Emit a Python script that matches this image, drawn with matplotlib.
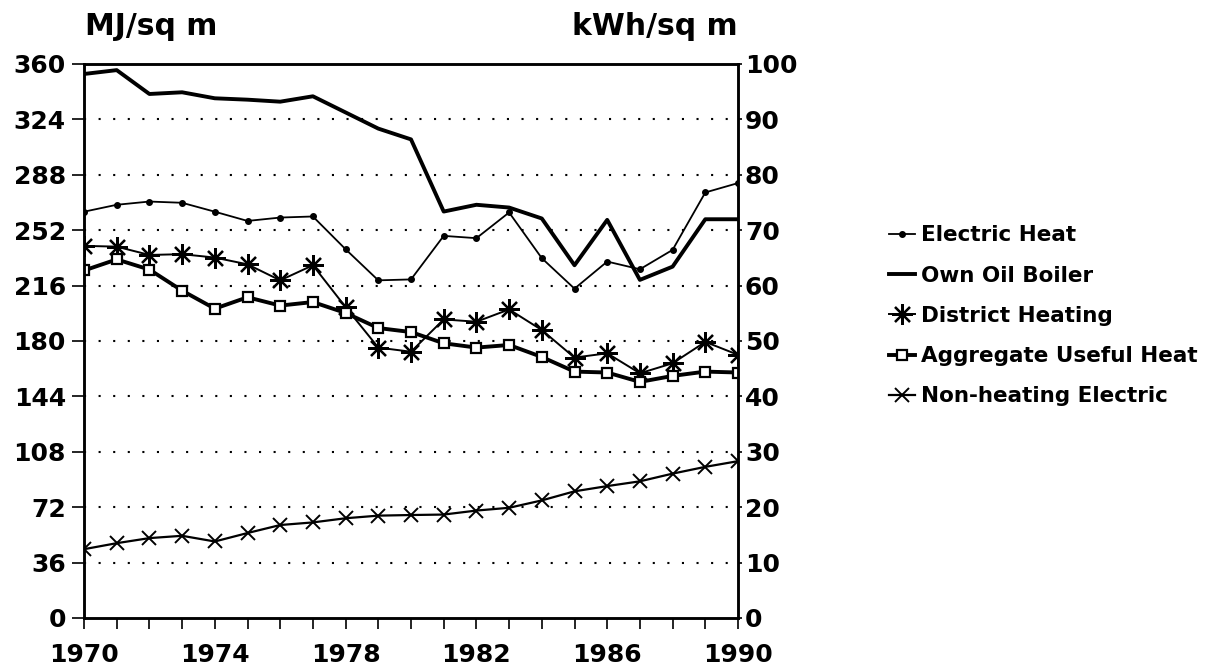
import matplotlib.pyplot as plt
from matplotlib.ticker import FixedLocator, MultipleLocator

plt.rcParams["font.family"] = ["DejaVu Sans"]
plt.rcParams["font.weight"] = "bold"

years = list(range(1970, 1991))

electric_heat = [264, 268.5, 270.6, 269.8, 264, 258, 260.2, 260.9, 239.6, 219.4,
                 220, 248.3, 246.8, 263.5, 233.8, 214, 231.6, 226.6, 239.2, 276.5, 282.6]
own_oil_boiler = [353.5, 356, 340.5, 341.6, 337.7, 336.8, 335.5, 339, 328.5, 318,
                  311, 264.1, 268.5, 266.7, 259.6, 229.2, 258.7, 219.7, 228.3, 259.1, 259.1]
district_heating = [241.8, 241.3, 235.9, 236.4, 234.2, 229.8, 219.4, 229.2, 202, 175.7,
                    173, 194, 192.5, 200.5, 187.1, 169.2, 172, 159, 165.5, 179.4, 171]
aggregate_useful = [225.8, 233, 226.4, 212.7, 201, 208.4, 203, 205.3, 198.2, 188.4,
                    185.8, 178.5, 175.7, 177.4, 169.6, 160.1, 159.5, 153.4, 157.3, 160.1, 159.5]
non_heating_electric = [44.7, 48.6, 51.9, 53.4, 49.7, 55.2, 60.4, 62.1, 64.8, 66.5,
                        66.9, 67.2, 69.8, 71.6, 76.4, 82.3, 85.7, 88.8, 93.8, 98.2, 101.9]

mj_ticks = list(range(0, 361, 36))
kwh_ticks = list(range(0, 101, 10))
year_labels = [1970, 1974, 1978, 1982, 1986, 1990]

fig = plt.figure(figsize=(12.3, 6.72), dpi=100)
ax = fig.add_axes([0.0683, 0.0804, 0.5317, 0.8244])

ax.plot(years, electric_heat, color="black", lw=1.3, marker="o", ms=4,
        label="Electric Heat")
ax.plot(years, own_oil_boiler, color="black", lw=2.8, label="Own Oil Boiler")
ax.plot(years, district_heating, color="black", lw=1.4, marker=(8, 2, 0), ms=15,
        mew=1.6, label="District Heating")
ax.plot(years, aggregate_useful, color="black", lw=2.8, marker="s", ms=7,
        mfc="white", mew=1.6, label="Aggregate Useful Heat")
ax.plot(years, non_heating_electric, color="black", lw=1.6, marker="x", ms=10,
        mew=1.4, label="Non-heating Electric")

ax.set_xlim(1970, 1990)
ax.set_ylim(0, 360)
ax.xaxis.set_major_locator(FixedLocator(year_labels))
ax.xaxis.set_minor_locator(MultipleLocator(1))
ax.yaxis.set_major_locator(FixedLocator(mj_ticks))
for val in mj_ticks[1:-1]:
    ax.axhline(val, color="black", lw=1.5, ls=(0, (1, 6)), zorder=0)

for spine in ax.spines.values():
    spine.set_linewidth(1.8)
ax.tick_params(axis="y", direction="out", length=9, width=1.2, labelsize=18, pad=4)
ax.tick_params(axis="x", which="both", direction="out", length=8, width=1.2,
               labelsize=18, pad=10)

ax2 = ax.twinx()
ax2.set_ylim(0, 100)
ax2.yaxis.set_major_locator(FixedLocator(kwh_ticks))
ax2.tick_params(axis="y", direction="out", length=3, width=1.2, labelsize=18, pad=2)
for spine in ax2.spines.values():
    spine.set_linewidth(1.8)

fig.text(0.069, 0.96, "MJ/sq m", fontsize=21.5, ha="left", va="center")
fig.text(0.600, 0.96, "kWh/sq m", fontsize=21.5, ha="right", va="center")

ax.legend(loc="center left", bbox_to_anchor=(0.707, 0.53), bbox_transform=fig.transFigure,
          frameon=False, fontsize=15.5, handlelength=1.2, handletextpad=0.3,
          labelspacing=0.94, numpoints=1)

fig.savefig("out.png", dpi=100)
